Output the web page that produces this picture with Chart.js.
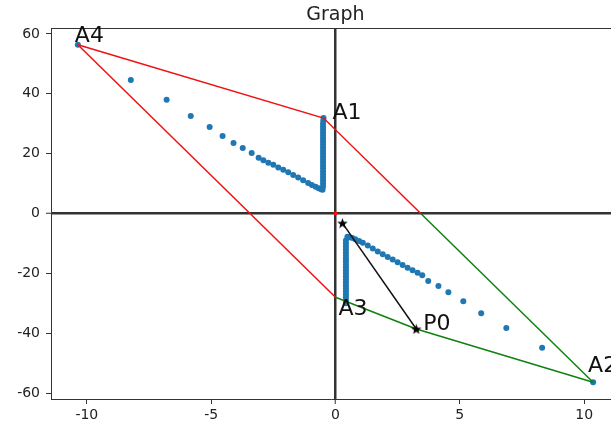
<!DOCTYPE html>
<html>
<head>
<meta charset="utf-8">
<script src="https://cdn.jsdelivr.net/npm/chart.js@4/dist/chart.umd.min.js"></script>
<style>
    body { margin: 0; background: #fff; }
    #wrap { width: 611px; height: 434px; }
</style>
</head>
<body>
<div id="wrap"><canvas id="chart" width="611" height="434"></canvas></div>
<script>
// Tick labels
const xTicks = [-10, -5, 0, 5, 10];
const yTicks = [-60, -40, -20, 0, 20, 40, 60];

// Named vertices
const vertexNames = ['A1', 'A2', 'A3', 'A4', 'P0'];
const vertexX = [-0.48, 10.36, 0.0, -10.36, 3.25];
const vertexY = [31.9, -56.4, -28.0, 56.4, -38.6];

// where the A1-A2 side crosses y = 0 (colour changes red -> green)
const crossX = [3.43];
const crossY = [0];

// the black arrow
const arrowX = [0.28, 3.25];
const arrowY = [-3.2, -38.6];

// Upper branch of the blue points
const upperX = [-10.36, -8.23, -6.79, -5.82, -5.06, -4.54, -4.10, -3.73, -3.37, -3.09,
    -2.90, -2.70, -2.50, -2.30, -2.10, -1.90, -1.70, -1.50, -1.30, -1.10,
    -0.95, -0.80, -0.68, -0.58, -0.52,
    -0.50, -0.50, -0.50, -0.50, -0.50, -0.50, -0.50, -0.50, -0.50, -0.50,
    -0.50, -0.50, -0.50, -0.50, -0.50, -0.50, -0.50, -0.50, -0.50, -0.50,
    -0.50, -0.50, -0.49, -0.48];
const upperY = [56.4, 44.6, 38.0, 32.6, 28.9, 25.9, 23.6, 21.9, 20.2, 18.6,
    17.8, 17.0, 16.3, 15.4, 14.6, 13.8, 12.9, 12.0, 11.1, 10.2,
    9.5, 8.9, 8.4, 8.1, 7.9,
    9.0, 10.0, 11.0, 12.0, 13.0, 14.0, 15.0, 16.0, 17.0, 18.0,
    19.0, 20.0, 21.0, 22.0, 23.0, 24.0, 25.0, 26.0, 27.0, 28.0,
    29.0, 30.0, 31.0, 31.9];

// Lower branch of the blue points
const lowerX = [10.36, 8.31, 6.87, 5.86, 5.14, 4.54, 4.14, 3.73, 3.49, 3.30,
    3.10, 2.90, 2.70, 2.50, 2.30, 2.10, 1.90, 1.70, 1.50, 1.30,
    1.10, 0.95, 0.80, 0.68, 0.56, 0.48,
    0.42, 0.42, 0.42, 0.42, 0.42, 0.42, 0.42, 0.42, 0.42, 0.42,
    0.42, 0.42, 0.42, 0.42, 0.42, 0.42, 0.42, 0.42, 0.42, 0.42,
    0.42, 0.42];
const lowerY = [-56.4, -44.9, -38.3, -33.3, -29.3, -26.3, -24.2, -22.6, -20.6, -19.8,
    -19.0, -18.1, -17.2, -16.3, -15.4, -14.5, -13.6, -12.7, -11.7, -10.7,
    -9.8, -9.2, -8.6, -8.2, -7.9, -7.8,
    -9.0, -10.0, -11.0, -12.0, -13.0, -14.0, -15.0, -16.0, -17.0, -18.0,
    -19.0, -20.0, -21.0, -22.0, -23.0, -24.0, -25.0, -26.0, -27.0, -28.0,
    -29.0, -30.0];

const FONT = '"DejaVu Sans", sans-serif';
const TEXT = '#222';

function pts(xs, ys) {
    return xs.map((x, i) => ({ x: x, y: ys[i] }));
}
function vtx(name) {
    const i = vertexNames.indexOf(name);
    return { x: vertexX[i], y: vertexY[i] };
}
const cross = { x: crossX[0], y: crossY[0] };

// filled 5 point star like matplotlib's '*'
function makeStar(size) {
    const c = document.createElement('canvas');
    c.width = size; c.height = size;
    const g = c.getContext('2d');
    const cx = size / 2, cy = size / 2 + 0.5, R = size / 2, r = R * 0.42;
    g.beginPath();
    for (let k = 0; k < 10; k++) {
        const rad = k % 2 === 0 ? R : r;
        const a = -Math.PI / 2 + k * Math.PI / 5;
        g.lineTo(cx + rad * Math.cos(a), cy + rad * Math.sin(a));
    }
    g.closePath();
    g.fillStyle = '#000';
    g.fill();
    return c;
}
const star = makeStar(11);

function lineSet(data, color, order) {
    return {
        data: data,
        showLine: true,
        borderColor: color,
        borderWidth: 1.5,
        pointRadius: 0,
        fill: false,
        order: order
    };
}

// offsets (px) of the text labels from their vertex
const labelOffset = { A1: [9, 1], A2: [-5, -10], A3: [3, 18], A4: [-3, -3], P0: [7, 1] };

const overlay = {
    id: 'overlay',
    afterDraw(chart) {
        const ctx = chart.ctx;
        const a = chart.chartArea;
        const xs = chart.scales.x, ys = chart.scales.y;
        ctx.save();
        // top spine
        ctx.strokeStyle = '#333';
        ctx.lineWidth = 1;
        ctx.beginPath();
        ctx.moveTo(a.left, a.top + 0.5);
        ctx.lineTo(a.right, a.top + 0.5);
        ctx.stroke();
        // title, centred on the (uncropped) axes
        ctx.fillStyle = TEXT;
        ctx.font = '19px ' + FONT;
        ctx.textAlign = 'center';
        ctx.textBaseline = 'alphabetic';
        ctx.fillText('Graph', xs.getPixelForValue(0), 20);
        // vertex labels
        ctx.font = '22px ' + FONT;
        ctx.textAlign = 'left';
        ctx.fillStyle = '#111';
        vertexNames.forEach((n, i) => {
            const off = labelOffset[n];
            ctx.fillText(n, xs.getPixelForValue(vertexX[i]) + off[0], ys.getPixelForValue(vertexY[i]) + off[1]);
        });
        ctx.restore();
    }
};

const zeroLine = c => (c.tick && c.tick.value === 0) ? '#333' : 'rgba(0,0,0,0)';
const zeroWidth = c => (c.tick && c.tick.value === 0) ? 2.5 : 1;

new Chart(document.getElementById('chart'), {
    type: 'scatter',
    data: {
        datasets: [
            {
                data: pts(upperX, upperY).concat(pts(lowerX, lowerY)),
                backgroundColor: '#1f77b4',
                borderWidth: 0,
                pointRadius: 3,
                order: 5
            },
            lineSet([vtx('A4'), vtx('A1'), cross], '#f01010', 2),
            lineSet([vtx('A4'), vtx('A3')], '#f01010', 2),
            lineSet([cross, vtx('A2')], '#108010', 2),
            lineSet([vtx('A3'), vtx('P0'), vtx('A2')], '#108010', 2),
            {
                data: [{ x: 0, y: 0 }],
                backgroundColor: '#f01010',
                borderWidth: 0,
                pointRadius: 2,
                order: 1
            },
            {
                data: pts(arrowX, arrowY),
                showLine: true,
                borderColor: '#111',
                borderWidth: 1.5,
                pointStyle: star,
                pointRadius: 5,
                order: 0
            }
        ]
    },
    options: {
        responsive: false,
        animation: false,
        events: [],
        layout: { autoPadding: false, padding: { top: 28, left: 0, right: 0, bottom: 0 } },
        plugins: {
            legend: { display: false },
            tooltip: { enabled: false },
            title: { display: false }
        },
        scales: {
            x: {
                type: 'linear',
                min: -11.44,
                max: 11.08,
                afterBuildTicks: s => { s.ticks = xTicks.map(v => ({ value: v })); },
                afterFit: s => { s.height = 35; s.paddingLeft = 0; s.paddingRight = 0; },
                border: { display: true, color: '#333', width: 1 },
                grid: { color: zeroLine, lineWidth: zeroWidth, tickColor: '#333', tickLength: 5, tickWidth: 1 },
                ticks: { color: TEXT, font: { family: FONT, size: 14 }, padding: 3, maxRotation: 0, callback: v => String(v) }
            },
            y: {
                type: 'linear',
                min: -62,
                max: 62,
                afterBuildTicks: s => { s.ticks = yTicks.map(v => ({ value: v })); },
                afterFit: s => { s.width = 51; s.paddingTop = 0; s.paddingBottom = 0; },
                border: { display: true, color: '#333', width: 1 },
                grid: { color: zeroLine, lineWidth: zeroWidth, tickColor: '#333', tickLength: 5, tickWidth: 1 },
                ticks: { color: TEXT, font: { family: FONT, size: 14 }, padding: 6, callback: v => String(v) }
            }
        }
    },
    plugins: [overlay]
});
</script>
</body>
</html>
